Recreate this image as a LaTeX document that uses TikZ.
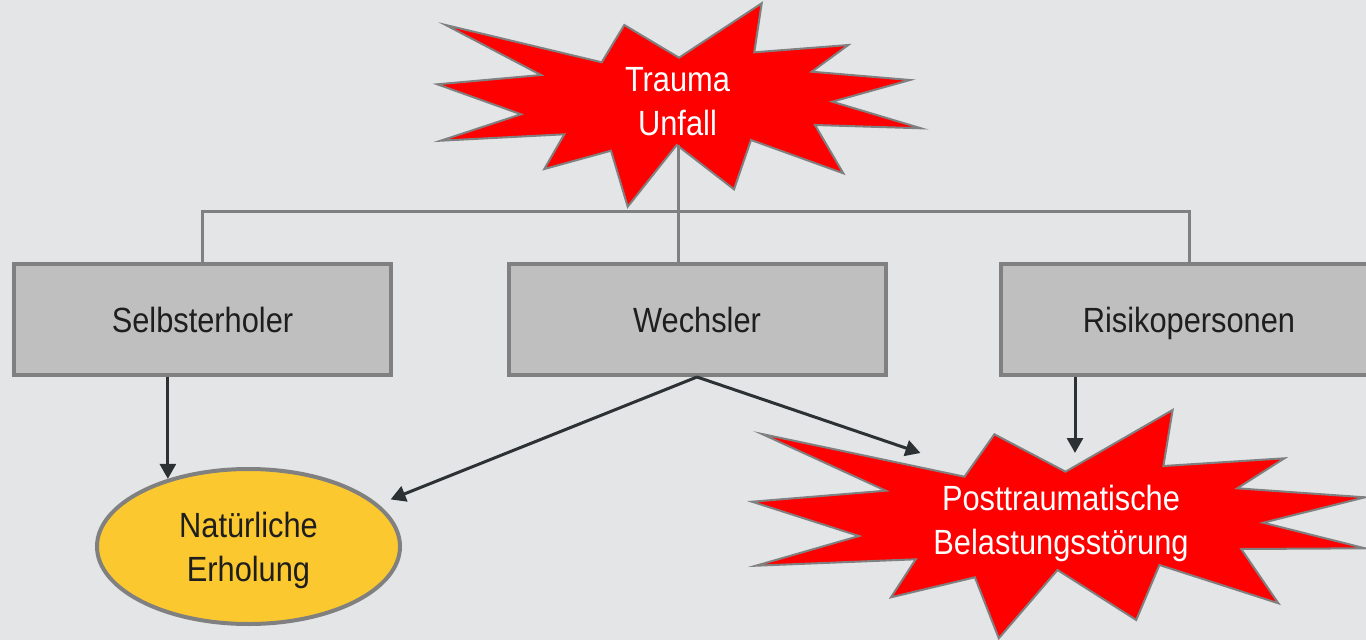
\documentclass[tikz,border=0pt]{standalone}
\usepackage{fontspec}
\setmainfont{Liberation Sans}[FakeStretch=0.88]
\usetikzlibrary{arrows.meta,shapes.geometric}
\definecolor{bg}{HTML}{E4E5E7}
\definecolor{bord}{HTML}{808080}
\definecolor{boxfill}{HTML}{BFBFBF}
\definecolor{yel}{HTML}{FCC830}
\definecolor{arrc}{HTML}{2C3133}
\definecolor{txt}{HTML}{1E1E1E}
\definecolor{starred}{HTML}{FF0000}
\begin{document}
\begin{tikzpicture}[x=1pt,y=-1pt,
  lbl/.style={font=\fontsize{35}{44}\selectfont, text=txt, align=center},
  gbox/.style={lbl, draw=bord, line width=4pt, fill=boxfill, minimum width=377pt, minimum height=111pt, text height=25pt, text depth=0pt, inner sep=0pt},
  oval/.style={ellipse, draw=bord, line width=4pt, fill=yel, minimum width=303pt, minimum height=155pt, inner sep=0pt},
  burst/.style={draw=bord, line width=2pt, fill=starred, line join=miter},
  bursttext/.style={lbl, text=white},
  conn/.style={draw=bord, line width=3pt},
  arr/.style={draw=arrc, line width=3pt, -{Triangle[length=15pt,width=16pt]}}]
\fill[bg] (0,0) rectangle (1366,640);
\useasboundingbox (0,0) rectangle (1366,640);

% Trauma burst
\draw[burst] (445.7,25) -- (601.7,62.3) -- (624.3,25) -- (679,57.7) -- (761.7,3.3) -- (754.3,52.3)
  -- (848.3,45) -- (811.7,71.7) -- (910,80) -- (832.3,101.7) -- (921,128.3) -- (815,125)
  -- (843.3,173.3) -- (751,140) -- (734,189.3) -- (676.7,145) -- (627.7,206.7) -- (611,150.7)
  -- (544.3,169) -- (564.3,134.3) -- (440.7,140.7) -- (521,114.3) -- (437.3,84.3) -- (541,75) -- cycle;
\node[bursttext] (trauma) at (677.5,102) {Trauma\\Unfall};
\coordinate (tb) at (678,145);

% PTBS burst
\draw[burst] (762,434) -- (964.5,476.7) -- (994.4,434.3) -- (1065.5,471.7) -- (1172.6,410) -- (1163.4,466)
  -- (1284.4,458.3) -- (1237.2,488.3) -- (1365,497.3) -- (1263.2,522.7) -- (1365,548.3) -- (1241.2,549)
  -- (1278.4,603.3) -- (1159.4,565) -- (1136.2,620) -- (1057.5,570) -- (998.8,638.3) -- (974.9,577.3)
  -- (891,597.3) -- (915.7,559.3) -- (756,565.7) -- (859,536) -- (752,501.7) -- (885.8,490.7) -- cycle;
\node[bursttext] (ptbs) at (1061,523) {Posttraumatische\\Belastungsstörung};
\coordinate (ptbsA) at (920.5,453);
\coordinate (ptbsB) at (1075,453);

% boxes
\node[gbox] (sel) at (202.5,319.5) {Selbsterholer};
\node[gbox] (wech) at (697,319.5) {Wechsler};
\node[gbox] (risk) at (1189,319.5) {Risikopersonen};

% ellipse
\node[oval] (erh) at (248.5,546.5) {};
\node[lbl] (erhtext) at (248.5,550) {Natürliche\\Erholung};

% tree connectors
\draw[conn] (sel.north) -- ++(0,-51) -| (risk.north);
\draw[conn] (tb) -- (tb |- wech.north);

% arrows
\draw[arr] (erh.140 |- sel.south) -- (erh.140);
\draw[arr, shorten >=13pt] (wech.south) -- (erh.18);
\draw[arr] (wech.south) -- (ptbsA);
\draw[arr] (ptbsB |- risk.south) -- (ptbsB);
\end{tikzpicture}
\end{document}
